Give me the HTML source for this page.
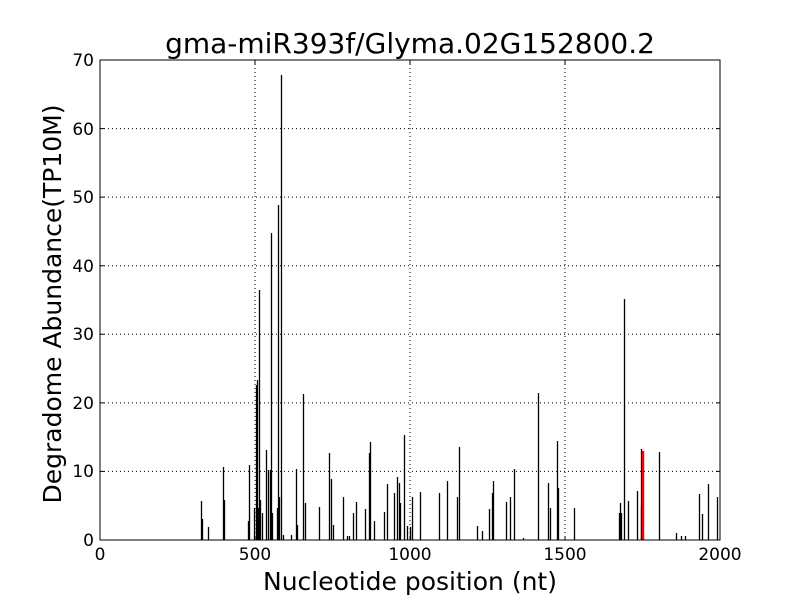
<!DOCTYPE html>
<html><head><meta charset="utf-8"><style>body{margin:0;background:#fff}svg{display:block}</style></head><body>
<svg width="800" height="600" xmlns="http://www.w3.org/2000/svg" font-family="DejaVu Sans, Liberation Sans, sans-serif">
<rect width="800" height="600" fill="#fff"/>
<g stroke="#000" stroke-width="1" stroke-dasharray="1,3">
<line x1="255" y1="60" x2="255" y2="540"/><line x1="410" y1="60" x2="410" y2="540"/><line x1="565" y1="60" x2="565" y2="540"/>
<line x1="100" y1="471.4" x2="720" y2="471.4"/><line x1="100" y1="402.9" x2="720" y2="402.9"/><line x1="100" y1="334.3" x2="720" y2="334.3"/><line x1="100" y1="265.7" x2="720" y2="265.7"/><line x1="100" y1="197.1" x2="720" y2="197.1"/><line x1="100" y1="128.6" x2="720" y2="128.6"/>
</g>
<g stroke="#000" stroke-width="1.3">
<path d="M201.5 540V501M202.5 540V519M208.5 540V527M223.5 540V467M224.5 540V500M248.5 540V521M249.5 540V465M254.5 540V508M256.5 540V385M257.5 540V380M258.5 540V508M259.5 540V290M260.5 540V500M262.5 540V513M266.5 540V450M268.5 540V470M270.5 540V470M271.5 540V233M272.5 540V513M277.5 540V508M278.5 540V205M279.5 540V497M281.5 540V75M283.5 540V535M291.5 540V535M296.5 540V469M297.5 540V525M303.5 540V394M305.5 540V503M319.5 540V507M329.5 540V453M331.5 540V479M333.5 540V525M343.5 540V497M347.5 540V536M349.5 540V536M353.5 540V513M356.5 540V502M365.5 540V509M369.5 540V453M370.5 540V442M374.5 540V521M384.5 540V512M387.5 540V484M394.5 540V493M397.5 540V477M399.5 540V483M400.5 540V503M404.5 540V435M407.5 540V526M410.5 540V527M412.5 540V497M420.5 540V492M439.5 540V493M447.5 540V481M457.5 540V497M459.5 540V447M477.5 540V526M482.5 540V531M489.5 540V509M492.5 540V493M493.5 540V481M506.5 540V502M510.5 540V497M514.5 540V469M523.5 540V538M538.5 540V393M548.5 540V483M550.5 540V508M557.5 540V441M558.5 540V488M574.5 540V508M619.5 540V513M620.5 540V503M621.5 540V513M624.5 540V299M628.5 540V501M637.5 540V491M641.5 540V507M659.5 540V452M676.5 540V533M681.5 540V536M685.5 540V536M699.5 540V494M702.5 540V514M708.5 540V484M717.5 540V497"/>
<line x1="641.5" y1="540" x2="641.5" y2="449"/>
</g>
<line x1="643" y1="540" x2="643" y2="451" stroke="#f00" stroke-width="2.5"/>
<rect x="100" y="60" width="620" height="480" fill="none" stroke="#000" stroke-width="1"/>
<g stroke="#000" stroke-width="1">
<path d="M255 540v-4M410 540v-4M565 540v-4M255 60v4M410 60v4M565 60v4M100 471.4h4M100 402.9h4M100 334.3h4M100 265.7h4M100 197.1h4M100 128.6h4M720 471.4h-4M720 402.9h-4M720 334.3h-4M720 265.7h-4M720 197.1h-4M720 128.6h-4"/>
</g>
<g font-size="17" fill="#000" text-anchor="middle">
<text x="100" y="560">0</text><text x="255" y="560">500</text><text x="410" y="560">1000</text><text x="565" y="560">1500</text><text x="720" y="560">2000</text>
</g>
<g font-size="17" fill="#000" text-anchor="end">
<text x="94" y="546">0</text><text x="94" y="477">10</text><text x="94" y="409">20</text><text x="94" y="340">30</text><text x="94" y="272">40</text><text x="94" y="203">50</text><text x="94" y="135">60</text><text x="94" y="66">70</text>
</g>
<text x="410" y="53" font-size="28" text-anchor="middle">gma-miR393f/Glyma.02G152800.2</text>
<text x="410" y="590" font-size="25" text-anchor="middle">Nucleotide position (nt)</text>
<text transform="translate(61 304) rotate(-90)" font-size="25" text-anchor="middle">Degradome Abundance(TP10M)</text>
</svg>
</body></html>
